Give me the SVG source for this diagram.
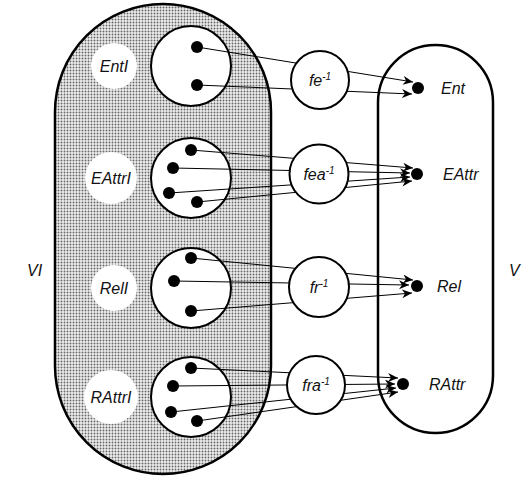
<svg xmlns="http://www.w3.org/2000/svg" width="531" height="481" viewBox="0 0 531 481">
  <style>
    .lbl { font-family: "Liberation Sans", Arial, sans-serif; font-style: italic; font-size: 16px; fill: #111; }
    .sup { font-size: 10px; }
    .outline { stroke: #000; stroke-width: 2.5; }
    .set { fill: #fff; stroke: #000; stroke-width: 2; }
    .hole { fill: #fff; stroke: none; }
    .dot { fill: #000; }
    .conn line { stroke: #000; stroke-width: 1; marker-end: url(#arrow); }
  </style>
  <defs>
    <pattern id="stipple" width="3" height="3" patternUnits="userSpaceOnUse">
      <rect width="3" height="3" fill="#eeeeee"/>
      <circle cx="1.5" cy="1.5" r="0.95" fill="#666"/>
    </pattern>
    <marker id="arrow" markerWidth="11" markerHeight="10" refX="10" refY="4.5" orient="auto" markerUnits="userSpaceOnUse">
      <path d="M0,0 L10,4.5 L0,9 L3,4.5 Z" fill="#000"/>
    </marker>
  </defs>

  <!-- instance view VI -->
  <g id="VI">
    <rect class="outline" x="55" y="4" width="216" height="470" rx="108" ry="108" fill="url(#stipple)"/>
    <text class="lbl" x="27" y="276">VI</text>
  </g>

  <!-- schema view V -->
  <g id="V">
    <rect class="outline" x="378" y="45" width="115" height="388" rx="57.5" ry="57.5" fill="#fff"/>
    <text class="lbl" x="509" y="276">V</text>
  </g>

  <!-- instance sets -->
  <g id="EntI">
    <circle class="hole" cx="114" cy="66" r="23"/>
    <text class="lbl" x="114" y="72" text-anchor="middle">EntI</text>
    <circle class="set" cx="191" cy="66" r="40"/>
  </g>
  <g id="EAttrI">
    <circle class="hole" cx="111" cy="178" r="26"/>
    <text class="lbl" x="111" y="184" text-anchor="middle">EAttrI</text>
    <circle class="set" cx="191" cy="178" r="40"/>
  </g>
  <g id="RelI">
    <circle class="hole" cx="114" cy="288" r="23"/>
    <text class="lbl" x="114" y="294" text-anchor="middle">RelI</text>
    <circle class="set" cx="191" cy="288" r="40"/>
  </g>
  <g id="RAttrI">
    <circle class="hole" cx="111" cy="397" r="27"/>
    <text class="lbl" x="111" y="403" text-anchor="middle">RAttrI</text>
    <circle class="set" cx="191" cy="397" r="40"/>
  </g>

  <!-- mappings from instance elements to schema elements -->
  <g id="connectors" class="conn">
    <line x1="197" y1="47" x2="413" y2="82"/>
    <line x1="197" y1="85" x2="412" y2="94"/>

    <line x1="191" y1="150" x2="413" y2="168"/>
    <line x1="173" y1="168" x2="410" y2="173"/>
    <line x1="169" y1="193" x2="410" y2="177"/>
    <line x1="197" y1="202" x2="412" y2="181"/>

    <line x1="191" y1="258" x2="413" y2="280"/>
    <line x1="174" y1="281" x2="409" y2="285"/>
    <line x1="191" y1="311" x2="412" y2="293"/>

    <line x1="191" y1="368" x2="398" y2="378"/>
    <line x1="173" y1="386" x2="395" y2="384"/>
    <line x1="171" y1="412" x2="396" y2="388"/>
    <line x1="197" y1="421" x2="398" y2="392"/>
  </g>

  <!-- instance elements -->
  <g id="instance-dots">
    <circle class="dot" cx="197" cy="47" r="6"/>
    <circle class="dot" cx="197" cy="85" r="6"/>
    <circle class="dot" cx="191" cy="150" r="6"/>
    <circle class="dot" cx="173" cy="168" r="6"/>
    <circle class="dot" cx="169" cy="193" r="6"/>
    <circle class="dot" cx="197" cy="202" r="6"/>
    <circle class="dot" cx="191" cy="258" r="6"/>
    <circle class="dot" cx="174" cy="281" r="6"/>
    <circle class="dot" cx="191" cy="311" r="6"/>
    <circle class="dot" cx="191" cy="368" r="6"/>
    <circle class="dot" cx="173" cy="386" r="6"/>
    <circle class="dot" cx="171" cy="412" r="6"/>
    <circle class="dot" cx="197" cy="421" r="6"/>
  </g>

  <!-- inverse mapping functions -->
  <g id="fe">
    <circle class="set" cx="320" cy="80" r="29"/>
    <text class="lbl" x="320" y="86" text-anchor="middle">fe<tspan class="sup" dy="-6">-1</tspan></text>
  </g>
  <g id="fea">
    <circle class="set" cx="319" cy="174" r="29.5"/>
    <text class="lbl" x="319" y="180" text-anchor="middle">fea<tspan class="sup" dy="-6">-1</tspan></text>
  </g>
  <g id="fr">
    <circle class="set" cx="319" cy="287" r="30"/>
    <text class="lbl" x="319" y="293" text-anchor="middle">fr<tspan class="sup" dy="-6">-1</tspan></text>
  </g>
  <g id="fra">
    <circle class="set" cx="316" cy="385" r="29"/>
    <text class="lbl" x="316" y="391" text-anchor="middle">fra<tspan class="sup" dy="-6">-1</tspan></text>
  </g>

  <!-- schema elements -->
  <g id="Ent">
    <circle class="dot" cx="418" cy="88" r="6"/>
    <text class="lbl" x="441" y="94">Ent</text>
  </g>
  <g id="EAttr">
    <circle class="dot" cx="417" cy="174" r="6"/>
    <text class="lbl" x="443" y="180">EAttr</text>
  </g>
  <g id="Rel">
    <circle class="dot" cx="417" cy="286" r="6"/>
    <text class="lbl" x="437" y="292">Rel</text>
  </g>
  <g id="RAttr">
    <circle class="dot" cx="403" cy="384" r="6"/>
    <text class="lbl" x="429" y="390">RAttr</text>
  </g>
</svg>
